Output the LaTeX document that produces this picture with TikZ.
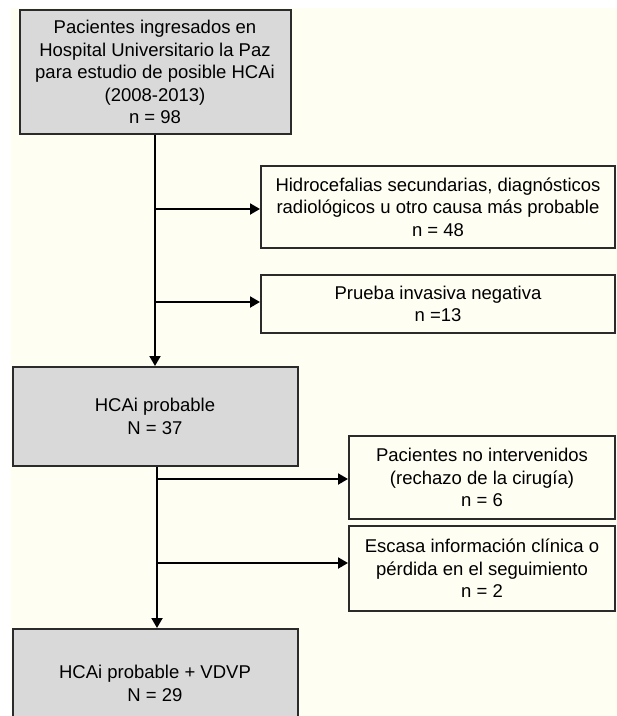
\documentclass[tikz,border=0pt]{standalone}
\usepackage{fontspec}
\setmainfont{Liberation Sans}
\usepackage{tikz}
\usetikzlibrary{arrows.meta}
\definecolor{crema}{HTML}{FFFEF2}
\definecolor{gris}{HTML}{D9D9D9}
\definecolor{borde}{HTML}{2B2B2B}
\tikzset{
  caja/.style={draw=borde, line width=2pt, fill=crema, align=center, inner sep=0pt,
    font=\fontsize{18.5}{22.5}\selectfont},
  cajagris/.style={caja, fill=gris},
  flecha/.style={line width=2pt, -{Triangle[length=10pt,width=11pt]}}
}

\begin{document}
\begin{tikzpicture}[x=1pt, y=-1pt]
        \useasboundingbox (0,0) rectangle (617,716);
        \fill[crema] (11,8) rectangle (617,716);
        % cajas
        \node[cajagris, minimum width=271pt, minimum height=124pt] (ingreso) at (155,72)
          {Pacientes ingresados en\\ Hospital Universitario la Paz\\para estudio de posible HCAi\\(2008-2013)\\n = 98};
        \node[caja, minimum width=354pt, minimum height=82pt] (hidro) at (438,207)
          {Hidrocefalias secundarias, diagnósticos\\radiológicos u otro causa más probable\\n = 48};
        \node[caja, minimum width=354pt, minimum height=58pt] (prueba) at (438,304)
          {Prueba invasiva negativa\\n =13};
        \node[cajagris, minimum width=285pt, minimum height=99pt] (probable) at (155,416.5)
          {HCAi probable\\N = 37};
        \node[caja, minimum width=266pt, minimum height=83pt] (nointerv) at (482,477.5)
          {Pacientes no intervenidos\\(rechazo de la cirugía)\\n = 6};
        \node[caja, minimum width=266pt, minimum height=85pt] (escasa) at (482,568.5)
          {Escasa información clínica o\\pérdida en el seguimiento\\n = 2};
        \node[cajagris, minimum width=285pt, minimum height=109pt] (vdvp) at (155,683.5)
          {HCAi probable + VDVP\\N = 29};
        % flechas
        \draw[flecha] (ingreso.south) -- (probable.north);
        \draw[flecha] ([yshift=-2pt]ingreso.south |- hidro.west) -- ([yshift=-2pt]hidro.west);
        \draw[flecha] ([yshift=2pt]ingreso.south |- prueba.west) -- ([yshift=2pt]prueba.west);
        \draw[flecha] ([xshift=2pt]probable.south) -- ([xshift=2pt]vdvp.north);
        \draw[flecha] ([xshift=2pt,yshift=-1.5pt]probable.south |- nointerv.west) -- ([yshift=-1.5pt]nointerv.west);
        \draw[flecha] ([xshift=2pt,yshift=5.5pt]probable.south |- escasa.west) -- ([yshift=5.5pt]escasa.west);
\end{tikzpicture}
\end{document}
